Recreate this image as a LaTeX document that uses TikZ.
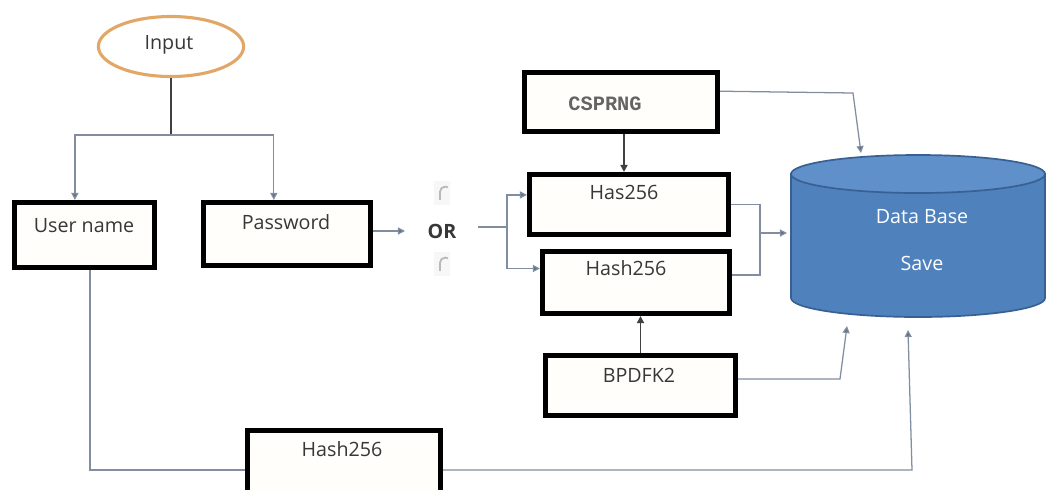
\documentclass[tikz,border=0pt]{standalone}
\usepackage{fontspec}
\setmainfont{Open Sans}
\setmonofont{Liberation Mono}
\usetikzlibrary{positioning, arrows.meta, shapes.geometric}
\definecolor{boxfill}{RGB}{255,254,250}
\definecolor{txtgray}{RGB}{55,55,55}
\definecolor{monogray}{RGB}{100,100,100}
\definecolor{conncolor}{RGB}{128,142,160}
\definecolor{tipcolor}{RGB}{95,110,128}
\definecolor{inputorange}{RGB}{226,166,102}
\definecolor{dbblue}{RGB}{79,129,189}
\definecolor{dbtop}{RGB}{96,144,201}
\definecolor{dbline}{RGB}{56,96,146}

\begin{document}
\begin{tikzpicture}[x=0.025cm, y=-0.025cm]
  \tikzset{
    box/.style={
      draw,
      line width=3.6pt,
      fill=boxfill,
      anchor=center
    },
    label/.style={
      font=\fontsize{14}{16}\selectfont,
      text=txtgray
    },
    conn/.style={
      draw=conncolor,
      line width=0.9pt,
      -{Triangle[length=5pt,width=5pt,fill=tipcolor]}
    },
    plain/.style={
      draw=conncolor,
      line width=0.9pt
    },
    dark/.style={
      draw=black!75,
      line width=1.1pt
    },
    radio/.style={
      fill=gray!6,
      minimum width=0.4cm,
      minimum height=0.62cm
    }
  }
  \useasboundingbox (0,0) rectangle (1046,489);

  % Input
  \node[draw=inputorange, line width=2.2pt, ellipse, fill=white,
        minimum width=3.63cm, minimum height=1.5cm] at (171,46.5) (input) {};
  \node[label] at (169,45) (inputT) {Input};

  % the two input boxes
  \node[box, minimum width=3.5cm, minimum height=1.625cm] at (84.5,235) (user) {};
  \node[label] at (84,226) (userT) {User name};
  \node[box, minimum width=4.175cm, minimum height=1.575cm] at (287,234) (pass) {};
  \node[label] at (286,222) (passT) {Password};

  \coordinate (split) at (input.south |- 0,135);
  \draw[dark] (input.south) -- (split);
  \draw[conn] (split) -| ([xshift=-0.24cm]user.north);
  \draw[conn] (split) -| ([xshift=-0.33cm]pass.north);

  % choice
  \node[label, font=\fontsize{14}{16}\selectfont\bfseries] at (442,231) (or) {OR};
  \node[radio] at (442,193) (radioA) {};
  \node[radio] at (442,264) (radioB) {};
  \foreach \r in {radioA, radioB}
    \draw[gray!55, line width=1.3pt]
      ([shift={(-0.05cm,-0.17cm)}]\r.center) -- ++(0,0.2cm)
      arc[start angle=180, end angle=60, radius=0.13cm];
  \draw[conn] (pass.east |- 0,231) -- (405,231);

  \coordinate (fork) at (507,227);
  \draw[plain] (478,227) -- (fork);

  % hashing boxes
  \node[box, minimum width=4.825cm, minimum height=1.475cm] at (621,102) (csprng) {};
  \node[label, text=monogray, font=\ttfamily\bfseries\fontsize{14.5}{16}\selectfont] at (605,104) (csprngT) {CSPRNG};
  \node[box, minimum width=4.975cm, minimum height=1.5cm] at (629,204.5) (has) {};
  \node[label] at (624,192) (hasT) {Has256};
  \node[box, minimum width=4.675cm, minimum height=1.55cm] at (636,282.5) (hash) {};
  \node[label] at (626,268) (hashT) {Hash256};
  \node[box, minimum width=4.75cm, minimum height=1.5cm] at (640.5,385.5) (bp) {};
  \node[label] at (639,375) (bpT) {BPDFK2};

  \draw[conn] (fork) |- ([yshift=0.24cm]has.west);
  \draw[conn] (fork) |- ([yshift=0.35cm]hash.west);
  \draw[dark, -{Triangle[length=5pt,width=5pt]}] (csprng.south -| 624,0) -- (has.north -| 624,0);
  \draw[dark, -{Triangle[length=5pt,width=5pt]}] (bp.north) -- (bp.north |- hash.south);

  % data base
  \draw[dbline, line width=1.2pt, fill=dbblue] (791,174) -- (791,298)
    arc[start angle=180, end angle=360, x radius=3.175cm, y radius=0.475cm]
    -- (1045,174) -- cycle;
  \draw[dbline, line width=1.2pt, fill=dbtop] (918,174) ellipse [x radius=3.175cm, y radius=0.475cm];
  \node[label, text=white] at (922,217) (dbA) {Data Base};
  \node[label, text=white] at (922,263) (dbB) {Save};

  \coordinate (dbTop) at (861,153);
  \coordinate (dbLeft) at (787,233);
  \coordinate (dbLow) at (847,326);
  \coordinate (dbLow2) at (908,330);

  \coordinate (bracket) at (760,233);
  \draw[plain] (has.east) -| (bracket) |- ([yshift=0.19cm]hash.east);
  \draw[conn] (bracket) -- (dbLeft);
  \draw[conn] ([yshift=0.27cm]csprng.east) -- (853,93) -- (dbTop);
  \draw[conn] ([yshift=0.16cm]bp.east) -- (840,379) -- (dbLow);

  % user name hash
  \node[box, minimum width=4.825cm, minimum height=1.575cm] at (344,462) (hb) {};
  \node[label] at (342,449) (hbT) {Hash256};
  \draw[plain] ([xshift=0.14cm]user.south) |- ([yshift=-0.2cm]hb.west);
  \draw[conn] ([yshift=-0.2cm]hb.east) -- (912,470) -- (dbLow2);
\end{tikzpicture}
\end{document}
